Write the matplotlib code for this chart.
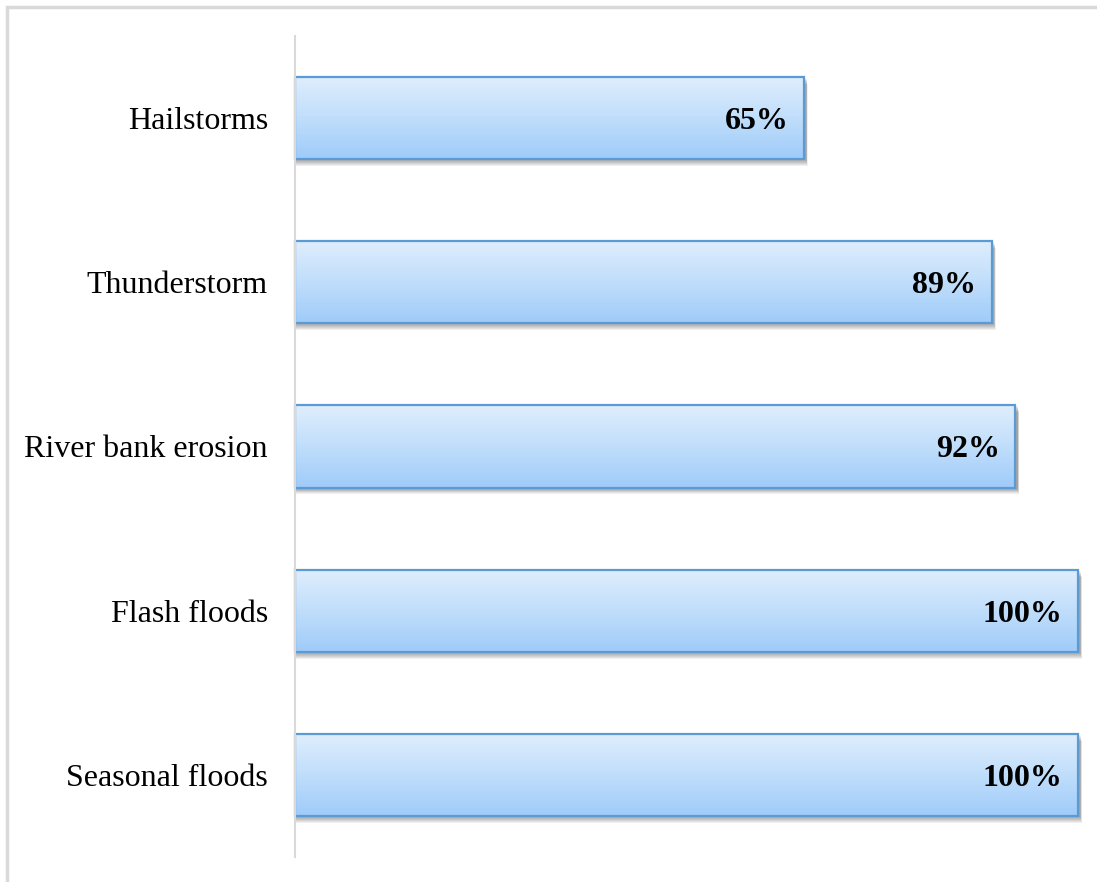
import matplotlib
matplotlib.use("Agg")
import matplotlib.pyplot as plt
import numpy as np
from matplotlib.patches import Rectangle
from matplotlib.colors import LinearSegmentedColormap

categories = ["Seasonal floods", "Flash floods", "River bank erosion", "Thunderstorm", "Hailstorms"]
values = [100, 100, 92, 89, 65]
labels = ["100%", "100%", "92%", "89%", "65%"]

W, H = 1097, 882
fig = plt.figure(figsize=(W / 100, H / 100), dpi=100)
plt.rcParams['font.family'] = ['Liberation Serif', 'DejaVu Serif']

# figure border (light gray)
fig.patches.append(Rectangle((7 / W, -0.1), 1.2, (H - 7) / H + 0.1, transform=fig.transFigure,
                             fill=False, edgecolor="#d9d9d9", linewidth=2.5))

ax = fig.add_axes([295 / W, (H - 857) / H, (1078 - 295) / W, (857 - 36) / H])
ax.set_xlim(0, 100)
ax.set_ylim(-0.5, len(categories) - 0.5)

cmap = LinearSegmentedColormap.from_list("g", ["#9fcbf9", "#c0defb", "#e0eefd"])
grad = np.linspace(0, 1, 256).reshape(-1, 1)
bh = 0.5
for i, (v, lab) in enumerate(zip(values, labels)):
    # shadow
    for k in range(7):
        ax.add_patch(Rectangle((0.1, i - bh / 2 - 0.006 - k * 0.006), v + 0.2 + k * 0.03, bh,
                               facecolor="#000000", alpha=0.06, edgecolor="none", zorder=1,
                               clip_on=False))
    im = ax.imshow(grad, extent=(0, v, i - bh / 2, i + bh / 2), origin="lower", cmap=cmap,
                   aspect="auto", zorder=2, interpolation="bilinear")
    r = Rectangle((0, i - bh / 2), v, bh, facecolor="none", edgecolor="#5b9bd5", linewidth=1.6,
                  zorder=3, clip_on=False)
    ax.add_patch(r)
    ax.text(v - 2.0, i, lab, ha="right", va="center_baseline", fontsize=23, fontweight="bold",
            color="black", zorder=4)

ax.set_xlim(0, 100)
ax.set_ylim(-0.5, len(categories) - 0.5)
ax.set_yticks(range(len(categories)))
ax.set_yticklabels(categories, fontsize=23)
ax.tick_params(axis="y", length=0, pad=19.5)
ax.set_xticks([])
for s in ["top", "right", "bottom"]:
    ax.spines[s].set_visible(False)
ax.spines["left"].set_color("#d9d9d9")
ax.spines["left"].set_linewidth(1.5)
ax.spines["left"].set_zorder(5)

fig.savefig("out.png", dpi=100)
